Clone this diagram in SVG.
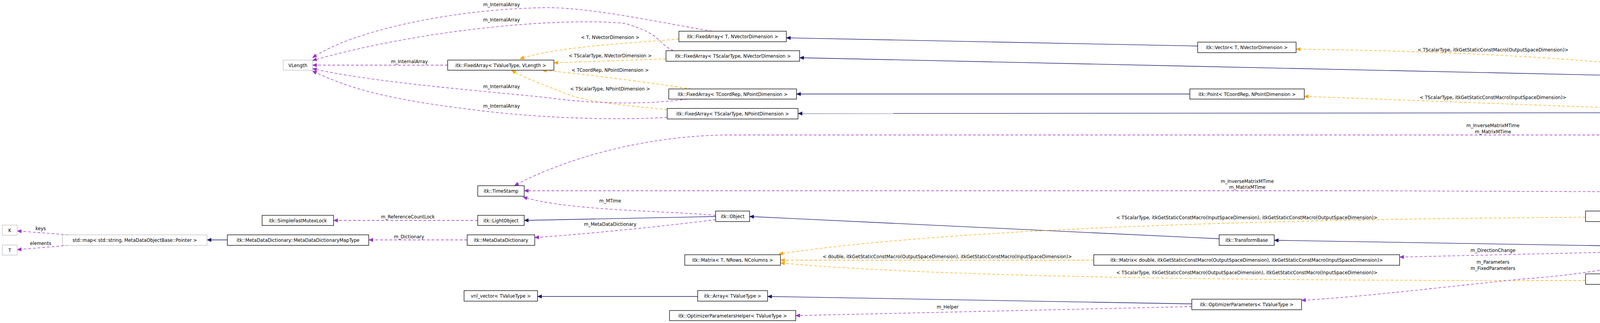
<svg xmlns="http://www.w3.org/2000/svg" width="6477" height="828" viewBox="0 0 6477 828">
<style>
rect{fill:#fff;stroke:#000;stroke-width:1.3}
rect.g{stroke:#bfbfbf}
rect.sel{fill:#bfbfbf}
text{font-family:"DejaVu Sans Condensed","Liberation Sans",sans-serif;font-size:13px;fill:#000;text-anchor:middle}
.inh{fill:none;stroke:#191970;stroke-width:1.3;marker-end:url(#mi)}
.tpl{fill:none;stroke:#ffa500;stroke-width:1.3;stroke-dasharray:7,5;marker-end:url(#mt)}
.use{fill:none;stroke:#9a32cd;stroke-width:1.3;stroke-dasharray:7,5;marker-end:url(#mu)}
</style>
<defs>
<marker id="mi" markerWidth="12" markerHeight="10" refX="11" refY="5" orient="auto" markerUnits="userSpaceOnUse"><path d="M0,0L12,5L0,10z" fill="#191970"/></marker>
<marker id="mt" markerWidth="12" markerHeight="10" refX="11" refY="5" orient="auto" markerUnits="userSpaceOnUse"><path d="M0,0L12,5L0,10z" fill="#ffa500"/></marker>
<marker id="mu" markerWidth="12" markerHeight="10" refX="11" refY="5" orient="auto" markerUnits="userSpaceOnUse"><path d="M0,0L12,5L0,10z" fill="#9a32cd"/></marker>
</defs>
<g id="connectors">
<path class="inh" d="M6210,502L6160,502"/>
<path class="tpl" d="M5805,502L5616,502"/>
<path class="inh" d="M5228,516C5100,545 5000,560 4900,585C4780,605 4680,615 4579,622"/>
<path class="inh" d="M5930,516C5820,545 5750,555 5700,558C5400,585 5000,605 4704,630"/>
<path class="inh" d="M4229,632L3262,616"/>
<path class="inh" d="M3121,612L1919,555"/>
<path class="inh" d="M1832,555L1342,565"/>
<path class="inh" d="M4212,195L2047,148"/>
<path class="inh" d="M3066,118L2013,97"/>
<path class="inh" d="M3046,241L2039,241"/>
<path class="inh" d="M4222,289L2043,291"/>
<path class="inh" d="M3051,779L1965,760"/>
<path class="inh" d="M1786,760L1376,760"/>
<path class="inh" d="M582,615L530,615"/>
<path class="tpl" d="M4338,186C4100,150 3700,130 3318,126"/>
<path class="tpl" d="M4222,280L3339,247"/>
<path class="tpl" d="M1738,100C1600,112 1420,120 1331,151"/>
<path class="tpl" d="M1705,151L1418,161"/>
<path class="tpl" d="M1770,228C1650,210 1500,190 1388,180"/>
<path class="tpl" d="M1708,281C1600,270 1500,262 1444,238C1400,220 1340,200 1310,180"/>
<path class="tpl" d="M4059,557C3500,560 2500,575 1994,651"/>
<path class="tpl" d="M2800,667L1998,667"/>
<path class="tpl" d="M4059,719C3600,719 2500,720 1998,674"/>
<path class="use" d="M1146,167L800,167"/>
<path class="use" d="M1823,80C1700,60 1500,15 1381,20C1150,25 900,80 800,148"/>
<path class="use" d="M1724,130C1680,110 1700,90 1600,60C1450,45 1100,70 800,155"/>
<path class="use" d="M1759,254C1650,270 1500,265 1400,250C1200,230 950,210 800,176"/>
<path class="use" d="M1708,301C1550,310 1350,300 1200,280C1000,255 900,230 800,182"/>
<path class="use" d="M5031,495L3500,489L1342,489"/>
<path class="use" d="M5973,488C5900,400 5700,355 5300,346L1858,346C1600,350 1400,430 1317,476"/>
<path class="use" d="M1832,552C1700,540 1450,540 1339,505"/>
<path class="use" d="M1223,565L854,565"/>
<path class="use" d="M1196,615L944,615"/>
<path class="use" d="M1832,563C1700,580 1500,600 1369,609"/>
<path class="use" d="M175,602L44,592"/>
<path class="use" d="M175,629L44,640"/>
<path class="use" d="M5973,488C5900,370 5800,270 5620,255C5300,210 5000,193 4721,193"/>
<path class="use" d="M5298,488C5200,400 5050,310 4900,260C4800,230 4700,218 4639,213"/>
<path class="use" d="M5960,488C5850,380 5700,330 5500,305C5200,270 4950,268 4709,276"/>
<path class="use" d="M5165,488C5000,450 4800,430 4502,302"/>
<path class="use" d="M5130,516C5000,525 4850,532 4716,541"/>
<path class="use" d="M5880,516C5600,545 5200,555 4874,560"/>
<path class="use" d="M5084,516C5000,540 5010,580 5000,600C4950,650 4800,690 4663,702"/>
<path class="use" d="M5945,516C5800,600 5500,680 5300,690C5100,705 4950,710 4874,710"/>
<path class="use" d="M4229,644L3583,659"/>
<path class="use" d="M4331,649C4150,680 4100,700 3900,715C3700,735 3500,760 3332,770"/>
<path class="use" d="M3051,786L2037,809"/>
</g>
<g id="edge-labels">
<text x="104" y="590">keys</text>
<text x="104" y="628">elements</text>
<text x="1048" y="162">m_InternalArray</text>
<text x="1284" y="16">m_InternalArray</text>
<text x="1284" y="55">m_InternalArray</text>
<text x="1284" y="226">m_InternalArray</text>
<text x="1284" y="276">m_InternalArray</text>
<text x="1044" y="560">m_ReferenceCountLock</text>
<text x="1047" y="611">m_Dictionary</text>
<text x="1562" y="100">&lt; T, NVectorDimension &gt;</text>
<text x="1562" y="147">&lt; TScalarType, NVectorDimension &gt;</text>
<text x="1562" y="184">&lt; TCoordRep, NPointDimension &gt;</text>
<text x="1562" y="232">&lt; TScalarType, NPointDimension &gt;</text>
<text x="1562" y="519">m_MTime</text>
<text x="1562" y="579">m_MetaDataDictionary</text>
<text x="3193" y="469">m_InverseMatrixMTime</text>
<text x="3193" y="484">m_MatrixMTime</text>
<text x="3192" y="562">&lt; TScalarType, itkGetStaticConstMacro(InputSpaceDimension), itkGetStaticConstMacro(OutputSpaceDimension)&gt;</text>
<text x="2425" y="662">&lt; double, itkGetStaticConstMacro(OutputSpaceDimension), itkGetStaticConstMacro(InputSpaceDimension)&gt;</text>
<text x="3192" y="703">&lt; TScalarType, itkGetStaticConstMacro(OutputSpaceDimension), itkGetStaticConstMacro(InputSpaceDimension)&gt;</text>
<text x="2426" y="791">m_Helper</text>
<text x="3822" y="132">&lt; TScalarType, itkGetStaticConstMacro(OutputSpaceDimension)&gt;</text>
<text x="3822" y="254">&lt; TScalarType, itkGetStaticConstMacro(InputSpaceDimension)&gt;</text>
<text x="3822" y="326">m_InverseMatrixMTime</text>
<text x="3822" y="342">m_MatrixMTime</text>
<text x="3822" y="646">m_DirectionChange</text>
<text x="3822" y="676">m_Parameters</text>
<text x="3822" y="692">m_FixedParameters</text>
<text x="5324" y="178">m_Offset</text>
<text x="5324" y="195">m_Translation</text>
<text x="4954" y="252">m_Offset</text>
<text x="4954" y="268">m_Translation</text>
<text x="5325" y="265">m_Center</text>
<text x="4954" y="440">m_Center</text>
<text x="4954" y="519">m_InverseMatrix</text>
<text x="5325" y="539">m_InverseMatrix</text>
<text x="4954" y="592">m_Matrix</text>
<text x="5325" y="624">m_Matrix</text>
<text x="5712" y="498">&lt; TScalarType, 2, 2 &gt;</text>
</g>
<g id="n-vlength"><rect class="g" x="725" y="154" width="75" height="26"/><text x="762.5" y="172">VLength</text></g>
<g id="n-k"><rect class="g" x="6" y="577" width="38" height="26"/><text x="25" y="595">K</text></g>
<g id="n-t"><rect class="g" x="6" y="628" width="38" height="26"/><text x="25" y="646">T</text></g>
<g id="n-map"><rect class="g" x="160" y="602" width="370" height="27"/><text x="345" y="620">std::map&lt; std::string, MetaDataObjectBase::Pointer &gt;</text></g>
<g id="n-maptype"><rect x="582" y="602" width="362" height="27"/><text x="763" y="620">itk::MetaDataDictionary::MetaDataDictionaryMapType</text></g>
<g id="n-mutex"><rect x="671" y="552" width="183" height="26"/><text x="762.5" y="570">itk::SimpleFastMutexLock</text></g>
<g id="n-fa-vl"><rect x="1146" y="154" width="272" height="26"/><text x="1282" y="172">itk::FixedArray&lt; TValueType, VLength &gt;</text></g>
<g id="n-fa-tnv"><rect x="1738" y="80" width="275" height="27"/><text x="1875.5" y="98">itk::FixedArray&lt; T, NVectorDimension &gt;</text></g>
<g id="n-fa-tsnv"><rect x="1705" y="130" width="342" height="27"/><text x="1876" y="148">itk::FixedArray&lt; TScalarType, NVectorDimension &gt;</text></g>
<g id="n-fa-tcnp"><rect x="1712" y="228" width="327" height="26"/><text x="1875.5" y="246">itk::FixedArray&lt; TCoordRep, NPointDimension &gt;</text></g>
<g id="n-fa-tsnp"><rect x="1708" y="278" width="335" height="27"/><text x="1875.5" y="296">itk::FixedArray&lt; TScalarType, NPointDimension &gt;</text></g>
<g id="n-timestamp"><rect x="1223" y="476" width="119" height="27"/><text x="1282.5" y="494">itk::TimeStamp</text></g>
<g id="n-lightobject"><rect x="1223" y="552" width="119" height="26"/><text x="1282.5" y="570">itk::LightObject</text></g>
<g id="n-mdd"><rect x="1196" y="602" width="173" height="27"/><text x="1282.5" y="620">itk::MetaDataDictionary</text></g>
<g id="n-object"><rect x="1832" y="541" width="87" height="27"/><text x="1875.5" y="559">itk::Object</text></g>
<g id="n-matrix-t"><rect x="1753" y="653" width="245" height="27"/><text x="1875.5" y="671">itk::Matrix&lt; T, NRows, NColumns &gt;</text></g>
<g id="n-vnl"><rect x="1188" y="745" width="188" height="27"/><text x="1282" y="763">vnl_vector&lt; TValueType &gt;</text></g>
<g id="n-array"><rect x="1786" y="745" width="179" height="27"/><text x="1875.5" y="763">itk::Array&lt; TValueType &gt;</text></g>
<g id="n-oph"><rect x="1714" y="796" width="323" height="26"/><text x="1875.5" y="814">itk::OptimizerParametersHelper&lt; TValueType &gt;</text></g>
<g id="n-vec-t"><rect x="3066" y="108" width="252" height="27"/><text x="3192" y="126">itk::Vector&lt; T, NVectorDimension &gt;</text></g>
<g id="n-point-tc"><rect x="3046" y="228" width="293" height="26"/><text x="3192.5" y="246">itk::Point&lt; TCoordRep, NPointDimension &gt;</text></g>
<g id="n-transformbase"><rect x="3121" y="602" width="141" height="27"/><text x="3191.5" y="620">itk::TransformBase</text></g>
<g id="n-matrix-d"><rect x="2800" y="653" width="783" height="27"/><text x="3191.5" y="671">itk::Matrix&lt; double, itkGetStaticConstMacro(OutputSpaceDimension), itkGetStaticConstMacro(InputSpaceDimension)&gt;</text></g>
<g id="n-op"><rect x="3051" y="767" width="281" height="27"/><text x="3191.5" y="785">itk::OptimizerParameters&lt; TValueType &gt;</text></g>
<g id="n-vec-ts"><rect x="4212" y="186" width="509" height="27"/><text x="4466.5" y="204">itk::Vector&lt; TScalarType, itkGetStaticConstMacro(OutputSpaceDimension)&gt;</text></g>
<g id="n-point-ts"><rect x="4222" y="276" width="487" height="26"/><text x="4465.5" y="294">itk::Point&lt; TScalarType, itkGetStaticConstMacro(InputSpaceDimension)&gt;</text></g>
<g id="n-matrix-io"><rect x="4059" y="541" width="815" height="27"/><text x="4466.5" y="559">itk::Matrix&lt; TScalarType, itkGetStaticConstMacro(InputSpaceDimension), itkGetStaticConstMacro(OutputSpaceDimension)&gt;</text></g>
<g id="n-transform"><rect x="4229" y="622" width="475" height="27"/><text x="4466.5" y="640">itk::Transform&lt; TScalarType, NInputDimensions, NOutputDimensions &gt;</text></g>
<g id="n-matrix-oi"><rect x="4059" y="702" width="815" height="27"/><text x="4466.5" y="720">itk::Matrix&lt; TScalarType, itkGetStaticConstMacro(OutputSpaceDimension), itkGetStaticConstMacro(InputSpaceDimension)&gt;</text></g>
<g id="n-motb-n"><rect x="5031" y="488" width="585" height="28"/><text x="5323.5" y="507">itk::MatrixOffsetTransformBase&lt; TScalarType, NInputDimensions, NOutputDimensions &gt;</text></g>
<g id="n-motb-22"><rect x="5805" y="488" width="355" height="28"/><text x="5982.5" y="507">itk::MatrixOffsetTransformBase&lt; TScalarType, 2, 2 &gt;</text></g>
<g id="n-rigid"><rect class="sel" x="6210" y="488" width="262" height="28"/><text x="6341" y="507">itk::Rigid2DTransform&lt; TScalarType &gt;</text></g>
</svg>
